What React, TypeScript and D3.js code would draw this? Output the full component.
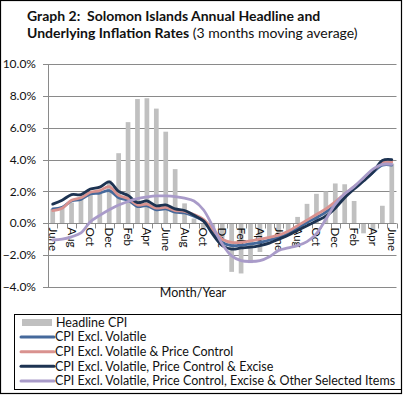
import * as d3 from 'd3';
import React, { useRef, useEffect } from 'react';

// 37 months, June (year 1) to June (year 4)
const months = [
  'June', 'Jul', 'Aug', 'Sep', 'Oct', 'Nov', 'Dec', 'Jan', 'Feb', 'Mar', 'Apr', 'May',
  'June', 'Jul', 'Aug', 'Sep', 'Oct', 'Nov', 'Dec', 'Jan', 'Feb', 'Mar', 'Apr', 'May',
  'June', 'Jul', 'Aug', 'Sep', 'Oct', 'Nov', 'Dec', 'Jan', 'Feb', 'Mar', 'Apr', 'May',
  'June',
];

const headlineCPI = [0.9, 1.0, 1.3, 1.5, 1.9, 2.0, 2.7, 4.4, 6.35, 7.8, 7.85, 7.2, 5.75, 3.4, 1.25, 0.3, -0.3, -0.6, -0.9, -3.05, -3.15, -2.5, -1.8, -1.1, -0.8, -0.5, 0.4, 1.22, 1.85, 2.0, 2.5, 2.45, 1.4, -0.63, -0.5, 1.1, 3.75];
const exclVolatile = [0.9, 1.0, 1.4, 1.5, 1.85, 1.9, 2.05, 1.6, 1.45, 1.05, 1.1, 0.85, 0.9, 0.7, 0.65, 0.45, 0.15, -0.5, -1.2, -1.4, -1.38, -1.3, -1.2, -1.05, -0.88, -0.65, -0.3, 0.05, 0.35, 0.7, 1.15, 1.75, 2.2, 2.7, 3.2, 3.65, 3.65];
const exclPriceControl = [0.8, 0.95, 1.45, 1.6, 1.95, 2.05, 2.3, 1.75, 1.55, 1.15, 1.2, 0.95, 1.0, 0.8, 0.75, 0.55, 0.25, -0.4, -1.0, -1.2, -1.2, -1.1, -1.0, -0.88, -0.74, -0.5, -0.15, 0.2, 0.55, 0.9, 1.35, 1.85, 2.3, 2.75, 3.25, 3.8, 3.85];
const exclExcise = [1.2, 1.45, 1.8, 1.8, 2.15, 2.27, 2.6, 2.0, 1.75, 1.3, 1.4, 1.1, 1.15, 0.9, 0.8, 0.5, 0.15, -0.7, -1.4, -1.62, -1.55, -1.5, -1.4, -1.25, -1.0, -0.75, -0.45, -0.15, 0.15, 0.45, 0.95, 1.6, 2.15, 2.65, 3.2, 3.95, 4.0];
const exclOther = [-1.05, -1.0, -0.85, -0.6, 0.1, 0.5, 0.85, 1.15, 1.37, 1.55, 1.65, 1.72, 1.72, 1.68, 1.58, 1.4, 0.85, -0.2, -1.3, -2.05, -2.35, -2.4, -2.35, -2.1, -1.7, -1.55, -1.4, -1.15, -0.65, 0.25, 1.2, 1.85, 2.3, 2.85, 3.4, 3.7, 3.7];

const yTicks = [-4, -2, 0, 2, 4, 6, 8, 10];

const lineSeries = [
  { name: 'CPI Excl. Volatile', values: exclVolatile, color: '#45699b' },
  { name: 'CPI Excl. Volatile & Price Control', values: exclPriceControl, color: '#d9928f' },
  { name: 'CPI Excl. Volatile, Price Control & Excise', values: exclExcise, color: '#1d3352' },
  { name: 'CPI Excl. Volatile, Price Control, Excise & Other Selected Items', values: exclOther, color: '#a99bc9' },
];

const FONT = 'Lato, "Open Sans", sans-serif';

const App = () => {
  const svgRef = useRef<SVGSVGElement>(null);
  const width = 404;
  const height = 395;

  useEffect(() => {
    draw();
  }, []);

  const draw = () => {
    const svg = d3.select(svgRef.current);
    svg.selectAll('*').remove();

    const plot = { left: 48, right: 396.5, top: 64, bottom: 287 };

    const x = d3.scaleBand<number>()
      .domain(months.map((_, i) => i))
      .range([plot.left, plot.right])
      .paddingInner(0.5)
      .paddingOuter(0.25);
    const step = x.step();
    const cx = (i: number) => (x(i) as number) + x.bandwidth() / 2;

    const y = d3.scaleLinear().domain([-4, 10]).range([plot.bottom, plot.top]);

    // outer frame
    svg.append('rect')
      .attr('x', 0.5).attr('y', 0.5)
      .attr('width', width - 3).attr('height', height - 2)
      .attr('fill', '#fff').attr('stroke', '#000').attr('stroke-width', 1.2);

    // title
    const title = svg.append('text')
      .attr('font-family', FONT).attr('font-size', 14).attr('fill', '#111')
      .style('white-space', 'pre');
    title.append('tspan').attr('x', 27).attr('y', 21)
      .attr('font-weight', 'bold').text('Graph 2:  Solomon Islands Annual Headline and');
    title.append('tspan').attr('x', 27).attr('y', 37.5)
      .attr('font-weight', 'bold').text('Underlying Inflation Rates');
    title.append('tspan').attr('font-weight', 'normal').text(' (3 months moving average)');

    // gridlines
    svg.append('g')
      .selectAll('line')
      .data(yTicks)
      .enter()
      .append('line')
      .attr('x1', plot.left - 5)
      .attr('x2', plot.right)
      .attr('y1', (d) => Math.round(y(d)) + 0.5)
      .attr('y2', (d) => Math.round(y(d)) + 0.5)
      .attr('stroke', '#8a8a8a')
      .attr('stroke-width', 1);

    // y axis line
    svg.append('line')
      .attr('x1', plot.left + 0.5).attr('x2', plot.left + 0.5)
      .attr('y1', plot.top).attr('y2', plot.bottom + 1)
      .attr('stroke', '#8a8a8a');

    // y labels
    svg.append('g')
      .selectAll('text')
      .data(yTicks)
      .enter()
      .append('text')
      .attr('x', 36)
      .attr('y', (d) => y(d))
      .attr('dy', '0.35em')
      .attr('text-anchor', 'end')
      .attr('font-family', FONT)
      .attr('font-size', 12)
      .attr('fill', '#111')
      .text((d) => d3.format('.1f')(d) + '%');

    // bars
    svg.append('g')
      .selectAll('rect')
      .data(headlineCPI)
      .enter()
      .append('rect')
      .attr('x', (_, i) => x(i) as number)
      .attr('width', x.bandwidth())
      .attr('y', (d) => y(Math.max(0, d)))
      .attr('height', (d) => Math.abs(y(d) - y(0)))
      .attr('fill', '#c0c0c0');

    // x axis line at 0 + ticks
    const y0 = Math.round(y(0)) + 0.5;
    svg.append('line')
      .attr('x1', plot.left).attr('x2', plot.right)
      .attr('y1', y0).attr('y2', y0)
      .attr('stroke', '#8a8a8a');
    svg.append('g')
      .selectAll('line')
      .data(d3.range(months.length + 1))
      .enter()
      .append('line')
      .attr('x1', (i) => Math.round(plot.left + i * step) + 0.5)
      .attr('x2', (i) => Math.round(plot.left + i * step) + 0.5)
      .attr('y1', y0)
      .attr('y2', y0 + 5)
      .attr('stroke', '#8a8a8a');

    // x labels (every second month), rotated
    svg.append('g')
      .selectAll('text')
      .data(months.map((m, i) => ({ m, i })).filter((d) => d.i % 2 === 0))
      .enter()
      .append('text')
      .attr('transform', (d) => `translate(${cx(d.i)}, ${y0 + 4}) rotate(90)`)
      .attr('dy', '0.35em')
      .attr('font-family', FONT)
      .attr('font-size', 11.5)
      .attr('fill', '#111')
      .text((d) => d.m);

    // lines
    const line = d3.line<number>()
      .x((_, i) => cx(i))
      .y((d) => y(d))
      .curve(d3.curveCatmullRom.alpha(0.5));

    svg.append('g')
      .selectAll('path')
      .data(lineSeries)
      .enter()
      .append('path')
      .attr('d', (s) => line(s.values))
      .attr('fill', 'none')
      .attr('stroke', (s) => s.color)
      .attr('stroke-width', 2.8)
      .attr('stroke-linejoin', 'round')
      .attr('stroke-linecap', 'round');

    // axis title
    svg.append('text')
      .attr('x', 193)
      .attr('y', 297)
      .attr('text-anchor', 'middle')
      .attr('font-family', FONT)
      .attr('font-size', 12.5)
      .attr('fill', '#111')
      .text('Month/Year');

    // legend
    const legend = svg.append('g');
    legend.append('rect')
      .attr('x', 14.5).attr('y', 314.5)
      .attr('width', 387).attr('height', 75)
      .attr('fill', 'none').attr('stroke', '#000');

    const rowY = (i: number) => 322.5 + i * 14.6;
    legend.append('rect')
      .attr('x', 22).attr('y', rowY(0) - 3.5)
      .attr('width', 30).attr('height', 7)
      .attr('fill', '#c0c0c0');

    const items = ['Headline CPI', ...lineSeries.map((s) => s.name)];

    legend.selectAll('.swatch')
      .data(lineSeries)
      .enter()
      .append('line')
      .attr('class', 'swatch')
      .attr('x1', 21).attr('x2', 54)
      .attr('y1', (_, i) => rowY(i + 1))
      .attr('y2', (_, i) => rowY(i + 1))
      .attr('stroke', (s) => s.color)
      .attr('stroke-width', 3)
      .attr('stroke-linecap', 'round');

    legend.selectAll('.label')
      .data(items)
      .enter()
      .append('text')
      .attr('class', 'label')
      .attr('x', (_, i) => (i === 0 ? 56 : 55))
      .attr('y', (_, i) => rowY(i))
      .attr('dy', '0.35em')
      .attr('font-family', FONT)
      .attr('font-size', 12.5)
      .attr('fill', '#111')
      .text((d) => d);
  };

  return (
    <svg ref={svgRef} width={width} height={height}
      style={{ position: 'absolute', left: 0, top: 0 }}>
    </svg>
  );
};

export default App;
